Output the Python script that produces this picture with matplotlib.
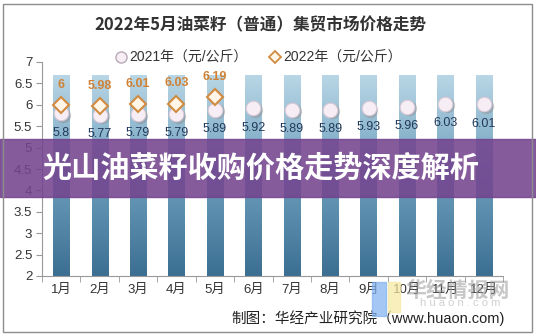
import numpy as np
import matplotlib.pyplot as plt
from matplotlib.patches import Rectangle
from matplotlib.lines import Line2D

plt.rcParams['font.family'] = ['Liberation Sans', 'Noto Sans CJK SC', 'DejaVu Sans']

months = ['1月', '2月', '3月', '4月', '5月', '6月', '7月', '8月', '9月', '10月', '11月', '12月']
price_2021 = [5.8, 5.77, 5.79, 5.79, 5.89, 5.92, 5.89, 5.89, 5.93, 5.96, 6.03, 6.01]
price_2022 = [6, 5.98, 6.01, 6.03, 6.19]
bar_top = [6.7] * 12
yticks = [2, 2.5, 3, 3.5, 4, 4.5, 5, 5.5, 6, 6.5, 7]

W, H = 536, 336
fig = plt.figure(figsize=(W / 100, H / 100), dpi=100)
fig.patch.set_facecolor('white')
ax = fig.add_axes([42 / W, 60 / H, 461 / W, 214 / H])

x = np.arange(len(months))

# background bars with a vertical blue gradient
grad = np.linspace(0, 1, 256).reshape(-1, 1)
from matplotlib.colors import LinearSegmentedColormap
cmap = LinearSegmentedColormap.from_list('bars', ['#3b6f92', '#6e9fbd', '#b9d7e6'])
bars = ax.bar(x, np.array(bar_top) - 2, bottom=2, width=0.42, color='none', zorder=1)
for b in bars:
    x0, w = b.get_x(), b.get_width()
    im = ax.imshow(grad, extent=[x0, x0 + w, 2, b.get_y() + b.get_height()],
                   origin='lower', cmap=cmap, aspect='auto', zorder=1)
    im.set_clip_path(b)

# 2021 circles with soft shadow
ax.plot(x + 0.05, np.array(price_2021) - 0.04, 'o', ms=11, color='#8a8a8a', alpha=0.45,
        mec='none', zorder=2)
ax.plot(x, price_2021, 'o', ms=10.5, mfc='#f7eef5', mec='#d9c8d6', mew=0.8, zorder=3)
for xi, v in zip(x, price_2021):
    ax.annotate(f'{v:g}', (xi, v), xytext=(0, -14), textcoords='offset points',
                ha='center', va='center', fontsize=9, color='#23395a', zorder=5)

# 2022 diamonds
x22 = x[:len(price_2022)]
ax.plot(x22, price_2022, 'D', ms=8, mfc='#fff6e8', mec='#d18b3e', mew=1.5, zorder=4)
for xi, v in zip(x22, price_2022):
    ax.annotate(f'{v:g}', (xi, v), xytext=(0, 14.5), textcoords='offset points',
                ha='center', va='center', fontsize=9, color='#d08236',
                fontweight='bold', zorder=5)

ax.set_xlim(-0.5, 11.5)
ax.set_ylim(2, 7)
ax.set_yticks(yticks)
ax.set_yticklabels([f'{t:g}' for t in yticks], fontsize=9.5, color='#333333')
ax.set_xticks(x)
ax.set_xticklabels(months, fontsize=9.5, color='#333333')
ax.set_xticks(np.arange(-0.5, 12, 1), minor=True)
ax.tick_params(axis='x', which='major', length=0, pad=6)
ax.tick_params(axis='x', which='minor', length=4, color='#999999', direction='out')
ax.tick_params(axis='y', length=4, color='#999999', direction='out', pad=3)
for s in ['top', 'right']:
    ax.spines[s].set_visible(False)
for s in ['left', 'bottom']:
    ax.spines[s].set_color('#999999')

# legend
handles = [Line2D([], [], ls='none', marker='o', ms=8, mfc='#f7eef5', mec='#b8a9b6', mew=1),
           Line2D([], [], ls='none', marker='D', ms=6, mfc='#fff6e8', mec='#d18b3e', mew=1.3)]
fig.legend(handles, ['2021年（元/公斤）', '2022年（元/公斤）'], loc='center',
           bbox_to_anchor=(258 / W, 1 - 58 / H), ncol=2, frameon=False, fontsize=10,
           handletextpad=0.1, columnspacing=1.5, handlelength=1.0, labelcolor='#333333')

fig.text(260 / W, 1 - 25 / H, '2022年5月油菜籽（普通）集贸市场价格走势',
         ha='center', va='center', fontsize=12, fontweight='bold', color='#333333',
         family=['Noto Sans CJK SC'])

fig.text(505 / W, 1 - 318 / H, '制图：华经产业研究院（www.huaon.com)',
         ha='right', va='center', fontsize=10.5, color='#222222')

# watermark
fig.patches.append(Rectangle((372 / W, 1 - 316 / H), 14 / W, 34 / H,
                             transform=fig.transFigure, color='#7fb0f0', alpha=0.7, zorder=6))
fig.patches.append(Rectangle((388 / W, 1 - 312 / H), 12 / W, 30 / H,
                             transform=fig.transFigure, color='#f6e9a0', alpha=0.7, zorder=6))
fig.text(458 / W, 1 - 290 / H, '华经情报网', ha='center', va='center', fontsize=15,
         fontweight='bold', color='#9a9a9a', alpha=0.55, family=['Noto Sans CJK SC'], zorder=7)
fig.text(460 / W, 1 - 303 / H, 'h u a o n . c o m', ha='center', va='center', fontsize=8,
         color='#b0b0b0', alpha=0.6, zorder=7)

# purple headline band
fig.patches.append(Rectangle((0, 1 - 197 / H), 1, 58 / H, transform=fig.transFigure,
                             color='#74448f', alpha=0.88, zorder=8))
fig.text(42 / W, 1 - 168 / H, '光山油菜籽收购价格走势深度解析', ha='left', va='center',
         fontsize=21, fontweight='bold', color='white', family=['Noto Sans CJK SC'], zorder=9)

# outer frame
fig.patches.append(Rectangle((3 / W, 4 / H), 529 / W, 328 / H, transform=fig.transFigure,
                             fill=False, ec='#8c8c8c', lw=1, zorder=10))

fig.savefig('out.png', dpi=100)
